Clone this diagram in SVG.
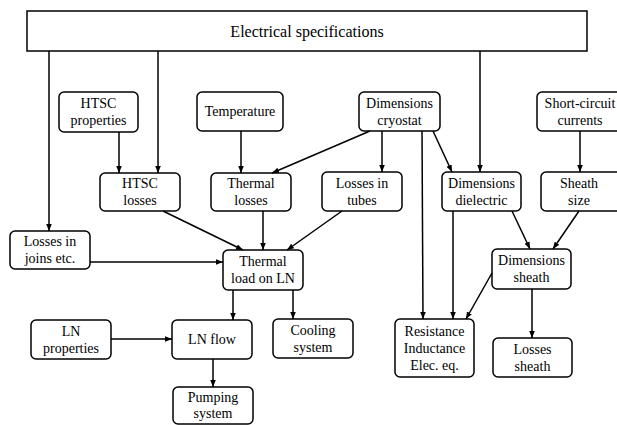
<svg xmlns="http://www.w3.org/2000/svg" width="617" height="425" viewBox="0 0 617 425" font-family="'Liberation Serif', 'Times New Roman', 'DejaVu Serif', serif">
<defs>
<marker id="ah" viewBox="0 0 10 10" refX="10" refY="5" markerWidth="7" markerHeight="7" markerUnits="userSpaceOnUse" orient="auto">
<path d="M0,1 L10,5 L0,9 z" fill="#000"/>
</marker>
</defs>
<style>
.n rect{fill:#fff;stroke:#000;stroke-width:1.5}
text{font-family:'Liberation Serif','Times New Roman','DejaVu Serif',serif;font-size:14px;fill:#000;text-anchor:middle}
.c line{stroke:#000;stroke-width:1.5;fill:none;marker-end:url(#ah)}
</style>
<rect width="617" height="425" fill="#fff"/>
<g id="elec" class="n"><rect x="27" y="11" width="560" height="40" rx="0"/><text x="307" y="37" style="font-size:16px">Electrical specifications</text></g>
<g id="htscprop" class="n"><rect x="59" y="92" width="79" height="40" rx="5"/><text x="98.5" y="108">HTSC</text><text x="98.5" y="125">properties</text></g>
<g id="temp" class="n"><rect x="197" y="92" width="86" height="39" rx="5"/><text x="240" y="116">Temperature</text></g>
<g id="dimcryo" class="n"><rect x="359" y="92" width="81" height="39" rx="5"/><text x="399.5" y="108">Dimensions</text><text x="399.5" y="125">cryostat</text></g>
<g id="shortcirc" class="n"><rect x="537" y="92" width="84" height="39" rx="5"/><text x="580" y="108">Short-circuit</text><text x="580" y="125">currents</text></g>
<g id="htscloss" class="n"><rect x="100" y="173" width="80" height="38" rx="5"/><text x="140" y="188">HTSC</text><text x="140" y="205">losses</text></g>
<g id="thermloss" class="n"><rect x="211" y="173" width="80" height="38" rx="5"/><text x="251" y="188">Thermal</text><text x="251" y="205">losses</text></g>
<g id="tubes" class="n"><rect x="322" y="172" width="80" height="39" rx="5"/><text x="362" y="188">Losses in</text><text x="362" y="205">tubes</text></g>
<g id="dimdiel" class="n"><rect x="442" y="172" width="79" height="39" rx="5"/><text x="481.5" y="188">Dimensions</text><text x="481.5" y="205">dielectric</text></g>
<g id="sheathsize" class="n"><rect x="541" y="172" width="80" height="39" rx="5"/><text x="579" y="188">Sheath</text><text x="579" y="205">size</text></g>
<g id="joins" class="n"><rect x="10" y="231" width="80" height="38" rx="5"/><text x="50" y="246">Losses in</text><text x="50" y="263">joins etc.</text></g>
<g id="thermload" class="n"><rect x="223" y="250" width="80" height="40" rx="5"/><text x="263" y="266">Thermal</text><text x="263" y="283">load on LN</text></g>
<g id="dimsheath" class="n"><rect x="492" y="249" width="79" height="40" rx="5"/><text x="531.5" y="265">Dimensions</text><text x="531.5" y="282">sheath</text></g>
<g id="lnprop" class="n"><rect x="31" y="320" width="80" height="39" rx="5"/><text x="71" y="336">LN</text><text x="71" y="353">properties</text></g>
<g id="lnflow" class="n"><rect x="172" y="320" width="80" height="39" rx="5"/><text x="212" y="344">LN flow</text></g>
<g id="cooling" class="n"><rect x="273" y="319" width="80" height="39" rx="5"/><text x="313" y="335">Cooling</text><text x="313" y="352">system</text></g>
<g id="resist" class="n"><rect x="395" y="319" width="79" height="58" rx="5"/><text x="434.5" y="336">Resistance</text><text x="434.5" y="353">Inductance</text><text x="434.5" y="370">Elec. eq.</text></g>
<g id="losssheath" class="n"><rect x="493" y="338" width="79" height="39" rx="5"/><text x="532.5" y="354">Losses</text><text x="532.5" y="371">sheath</text></g>
<g id="pumping" class="n"><rect x="173" y="387" width="80" height="37" rx="5"/><text x="213" y="402">Pumping</text><text x="213" y="418">system</text></g>
<g id="connectors" class="c">
<line x1="49" y1="51" x2="49" y2="231"/>
<line x1="158" y1="51" x2="158" y2="173"/>
<line x1="480" y1="51" x2="480" y2="172"/>
<line x1="119" y1="132" x2="119" y2="173"/>
<line x1="241" y1="131" x2="241" y2="173"/>
<line x1="370" y1="131" x2="272" y2="173"/>
<line x1="382" y1="131" x2="382" y2="172"/>
<line x1="422" y1="131" x2="423" y2="319"/>
<line x1="433" y1="131" x2="452" y2="172"/>
<line x1="580" y1="131" x2="580" y2="172"/>
<line x1="163" y1="211" x2="243" y2="250"/>
<line x1="263" y1="211" x2="263" y2="250"/>
<line x1="342" y1="211" x2="287" y2="250"/>
<line x1="90" y1="262" x2="223" y2="262"/>
<line x1="453" y1="211" x2="453" y2="319"/>
<line x1="512" y1="211" x2="530" y2="249"/>
<line x1="579" y1="211" x2="553" y2="249"/>
<line x1="492" y1="273" x2="466" y2="319"/>
<line x1="532" y1="289" x2="532" y2="338"/>
<line x1="233" y1="290" x2="233" y2="320"/>
<line x1="293" y1="290" x2="293" y2="319"/>
<line x1="111" y1="339" x2="172" y2="339"/>
<line x1="213" y1="359" x2="213" y2="387"/>
</g>
</svg>
